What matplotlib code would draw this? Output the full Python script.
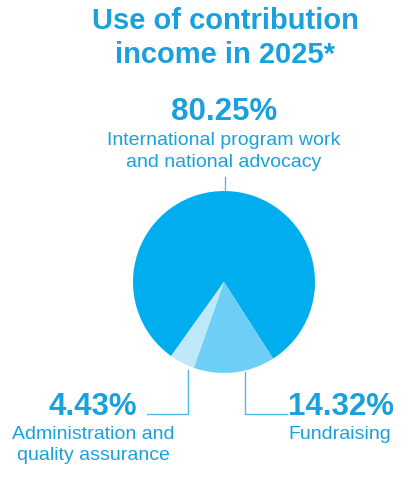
import matplotlib.pyplot as plt

# shares of contribution income 2025 (percent)
labels = [["International program work", "and national advocacy"], ["Fundraising"],
          ["Administration and", "quality assurance"]]
shares = [80.25, 14.32, 4.43]
colors = ["#00AEEF", "#6DCFF6", "#BFE8FB"]
title = ["Use of contribution", "income in 2025*"]
blue = "#1AA1DD"
linec = "#4DB8E8"

W, H = 415, 478
fig = plt.figure(figsize=(W / 100, H / 100), dpi=100)
ax = fig.add_axes([0, 0, 1, 1])

def Y(y):
    # pixel row from top -> data y
    return H - y

# big slice centred on top, going clockwise
start = 90 + shares[0] / 100 * 360 / 2
ax.pie(shares, colors=colors, startangle=start, counterclock=False,
       center=(224, Y(282)), radius=91, wedgeprops=dict(linewidth=0))
ax.set_xlim(0, W)
ax.set_ylim(0, H)
ax.set_aspect("equal")
ax.axis("off")

font = "Liberation Sans"

def lines(x, y0, txt, size, pitch, bold=False):
    for i, t in enumerate(txt):
        ax.text(x, Y(y0 + i * pitch), t, ha="center", va="baseline", fontsize=size,
                fontweight="bold" if bold else "normal", color=blue, family=font)

lines(225, 29, title, 21, 34, bold=True)

# top label
lines(224, 120, [f"{shares[0]:.2f}%"], 22.5, 0, bold=True)
lines(224, 145, labels[0], 14, 22)
ax.plot([225, 225], [Y(177), Y(191)], color=linec, lw=1)

# bottom left
lines(93, 415, [f"{shares[2]:.2f}%"], 22.5, 0, bold=True)
lines(93, 439, labels[2], 14, 21.5)
ax.plot([147, 188, 188], [Y(414), Y(414), Y(370)], color=linec, lw=1)

# bottom right
lines(341, 415, [f"{shares[1]:.2f}%"], 22.5, 0, bold=True)
lines(340, 439, labels[1], 14, 21.5)
ax.plot([287, 245, 245], [Y(414), Y(414), Y(372)], color=linec, lw=1)

fig.savefig("out.png", dpi=100)
